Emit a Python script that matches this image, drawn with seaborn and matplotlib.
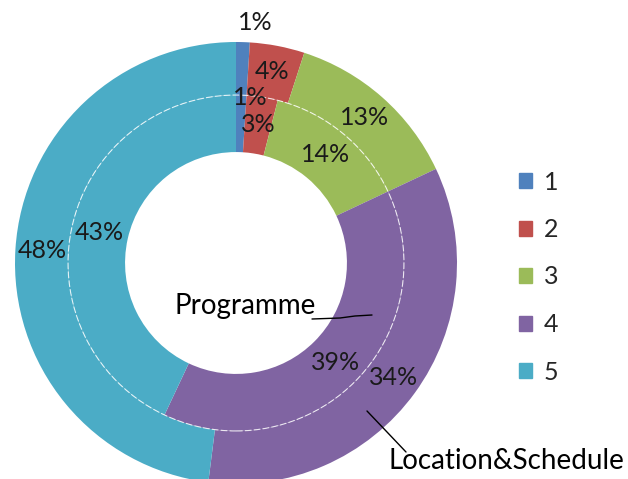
import numpy as np
import matplotlib
matplotlib.use("Agg")
import matplotlib.pyplot as plt
import seaborn as sns

# categories and the two rings (percent)
categories = ["1", "2", "3", "4", "5"]
outer_values = [1, 4, 13, 34, 48]   # Location&Schedule
inner_values = [1, 3, 14, 39, 43]   # Programme
colors = ["#4F81BD", "#C0504D", "#9BBB59", "#8064A2", "#4BACC6"]

sns.set_theme(style="white")
plt.rcParams["font.family"] = ["Lato", "DejaVu Sans"]

W, H = 628, 479
fig = plt.figure(figsize=(W / 100, H / 100), dpi=100)
cx, cy, R = 236, 263, 221
ax = fig.add_axes([(cx - R) / W, (H - cy - R) / H, 2 * R / W, 2 * R / H])

r_out, w_out = 1.0, 0.24
r_in, w_in = 0.76, 0.258
pal = sns.color_palette(colors)
FS = 18
FS_NAME = 20

ax.pie(outer_values, radius=r_out, colors=pal, startangle=90,
       counterclock=False, wedgeprops=dict(width=w_out, edgecolor="none"))
ax.pie(inner_values, radius=r_in, colors=pal, startangle=90,
       counterclock=False, wedgeprops=dict(width=w_in, edgecolor="none"))
ax.add_patch(plt.Circle((0, 0), r_in, fill=False, ec="white", lw=0.8,
                        ls=(0, (6, 2)), alpha=0.8))
ax.set_xlim(-1, 1)
ax.set_ylim(-1, 1)
ax.set_aspect("equal")
ax.axis("off")


def px(x, y):
    return (x - cx) / R, (cy - y) / R


def put_labels(values, r_mid, first_r, first_dx):
    cum = np.cumsum([0] + values)
    for i, v in enumerate(values):
        ang = np.deg2rad((cum[i] + v / 2) / sum(values) * 360)
        r = first_r if i == 0 else r_mid
        x, y = r * np.sin(ang), r * np.cos(ang)
        if i == 0:
            x += first_dx
        ax.text(x, y, f"{v}%", ha="center", va="center", fontsize=FS,
                color="#1a1a1a", clip_on=False)


put_labels(outer_values, r_out - w_out / 2, 1.09, 0.055)
put_labels(inner_values, r_in - w_in / 2 + 0.005, 0.75, 0.04)

# series annotations with leader lines
ax.text(*px(245, 306), "Programme", ha="center", va="center",
        fontsize=FS_NAME, color="black")
lx, ly = zip(px(312, 319), px(340, 318), px(355, 316), px(372, 315))
ax.plot(lx, ly, color="black", lw=1, clip_on=False)

ax.text(*px(506, 461), "Location&Schedule", ha="center", va="center",
        fontsize=FS_NAME, color="black", clip_on=False)
lx, ly = zip(px(367, 411), px(387, 432), px(406, 452))
ax.plot(lx, ly, color="black", lw=1, clip_on=False)

# legend
handles = [plt.Rectangle((0, 0), 1, 1, color=c) for c in pal]
fig.legend(handles, categories, loc="upper left",
           bbox_to_anchor=(496 / W, 1 - 148 / H), frameon=False,
           fontsize=FS, handlelength=0.55, handleheight=0.55,
           handletextpad=0.45, labelspacing=0.98)

fig.savefig("out.png", dpi=100)
